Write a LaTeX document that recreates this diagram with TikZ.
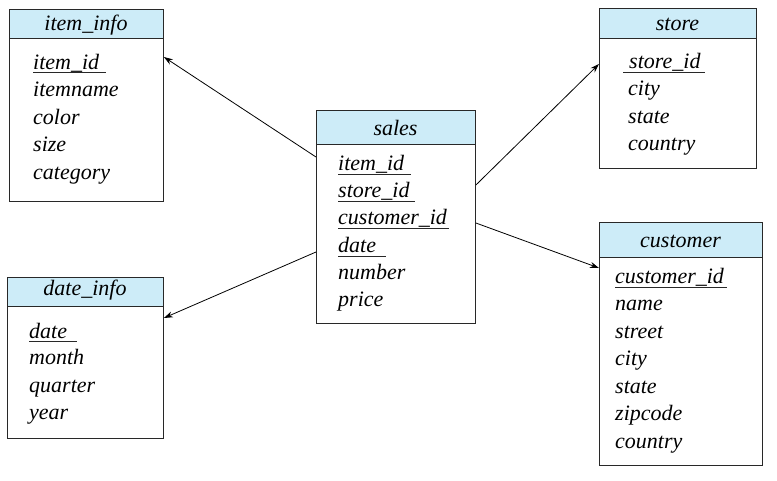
\documentclass[tikz,border=0pt]{standalone}
\usepackage{fontspec}
\setmainfont{Liberation Serif}
\usetikzlibrary{arrows.meta,calc}
\definecolor{hdrblue}{RGB}{205,236,248}
\definecolor{edgegray}{RGB}{40,40,40}
\tikzset{
  tbl/.style={draw=edgegray, line width=0.9pt, anchor=north west, inner sep=0pt},
  hdr/.style={draw=edgegray, line width=0.9pt, fill=hdrblue, anchor=north west, inner sep=0pt},
  attr/.style={anchor=base west, inner sep=0pt, font=\fontsize{22}{26}\selectfont\itshape},
  ttl/.style={anchor=base, inner sep=0pt, font=\fontsize{22}{26}\selectfont\itshape},
  keyline/.style={draw=edgegray, line width=0.8pt},
  link/.style={line width=0.8pt, -{Stealth[length=9pt,width=6pt]}}
}
\begin{document}
\begin{tikzpicture}[x=1pt,y=-1pt]
\useasboundingbox (0,0) rectangle (777,480);

% item_info
\node[tbl, minimum width=154pt, minimum height=192pt] (iteminfo) at (9,9) {};
\node[hdr, minimum width=154pt, minimum height=29pt] (iteminfoH) at (9,9) {};
\node[ttl] (iteminfoT) at (86,30) {item\_info};
\node[attr] (ii1) at (33,69) {item\_id};
\node[attr] (ii2) at (33,96.5) {itemname};
\node[attr] (ii3) at (33,124) {color};
\node[attr] (ii4) at (33,151.5) {size};
\node[attr] (ii5) at (33,179) {category};
\draw[keyline] ($(ii1.base west)+(0,3.5)$) -- ($(ii1.base east)+(7,3.5)$);

% date_info
\node[tbl, minimum width=156pt, minimum height=161pt] (dateinfo) at (7,277) {};
\node[hdr, minimum width=156pt, minimum height=29pt] (dateinfoH) at (7,277) {};
\node[ttl] (dateinfoT) at (85,295) {date\_info};
\node[attr] (di1) at (29,338) {date};
\node[attr] (di2) at (29,364.5) {month};
\node[attr] (di3) at (29,392) {quarter};
\node[attr] (di4) at (29,419.5) {year};
\draw[keyline] ($(di1.base west)+(0,3.5)$) -- ($(di1.base east)+(10,3.5)$);

% sales
\node[tbl, minimum width=159pt, minimum height=213pt] (sales) at (316,110) {};
\node[hdr, minimum width=159pt, minimum height=34pt] (salesH) at (316,110) {};
\node[ttl] (salesT) at (395.5,135) {sales};
\node[attr] (sa1) at (338,170) {item\_id};
\node[attr] (sa2) at (338,197) {store\_id};
\node[attr] (sa3) at (338,224.5) {customer\_id};
\node[attr] (sa4) at (338,252) {date};
\node[attr] (sa5) at (338,279) {number};
\node[attr] (sa6) at (338,306) {price};
\draw[keyline] ($(sa1.base west)+(0,4)$) -- ($(sa1.base east)+(7,4)$);
\draw[keyline] ($(sa2.base west)+(0,4)$) -- ($(sa2.base east)+(5,4)$);
\draw[keyline] ($(sa3.base west)+(0,4)$) -- ($(sa3.base east)+(2,4)$);
\draw[keyline] ($(sa4.base west)+(0,4)$) -- ($(sa4.base east)+(10,4)$);

% store
\node[tbl, minimum width=157pt, minimum height=160pt] (store) at (599,8) {};
\node[hdr, minimum width=157pt, minimum height=30pt] (storeH) at (599,8) {};
\node[ttl] (storeT) at (677.5,30) {store};
\node[attr] (st1) at (629,68) {store\_id};
\node[attr] (st2) at (628,95.5) {city};
\node[attr] (st3) at (628,123) {state};
\node[attr] (st4) at (628,150.5) {country};
\draw[keyline] ($(st1.base west)+(-6,4)$) -- ($(st1.base east)+(4,4)$);

% customer
\node[tbl, minimum width=163pt, minimum height=243pt] (customer) at (599,222) {};
\node[hdr, minimum width=163pt, minimum height=35pt] (customerH) at (599,222) {};
\node[ttl] (customerT) at (680.5,247) {customer};
\node[attr] (cu1) at (615,283) {customer\_id};
\node[attr] (cu2) at (615,310.5) {name};
\node[attr] (cu3) at (615,338) {street};
\node[attr] (cu4) at (615,365.5) {city};
\node[attr] (cu5) at (615,393) {state};
\node[attr] (cu6) at (615,420.5) {zipcode};
\node[attr] (cu7) at (615,448) {country};
\draw[keyline] ($(cu1.base west)+(0,4)$) -- ($(cu1.base east)+(3,4)$);

% connectors
\draw[link] ($(sales.north west)+(0,47)$) -- ($(iteminfo.north east)+(0,48)$);
\draw[link] ($(sales.north east)+(0,75)$) -- ($(store.north west)+(0,56)$);
\draw[link] ($(sales.north east)+(0,113)$) -- ($(customer.north west)+(0,46)$);
\draw[link] ($(sales.north west)+(0,142)$) -- ($(dateinfo.north east)+(0,41)$);
\end{tikzpicture}
\end{document}
